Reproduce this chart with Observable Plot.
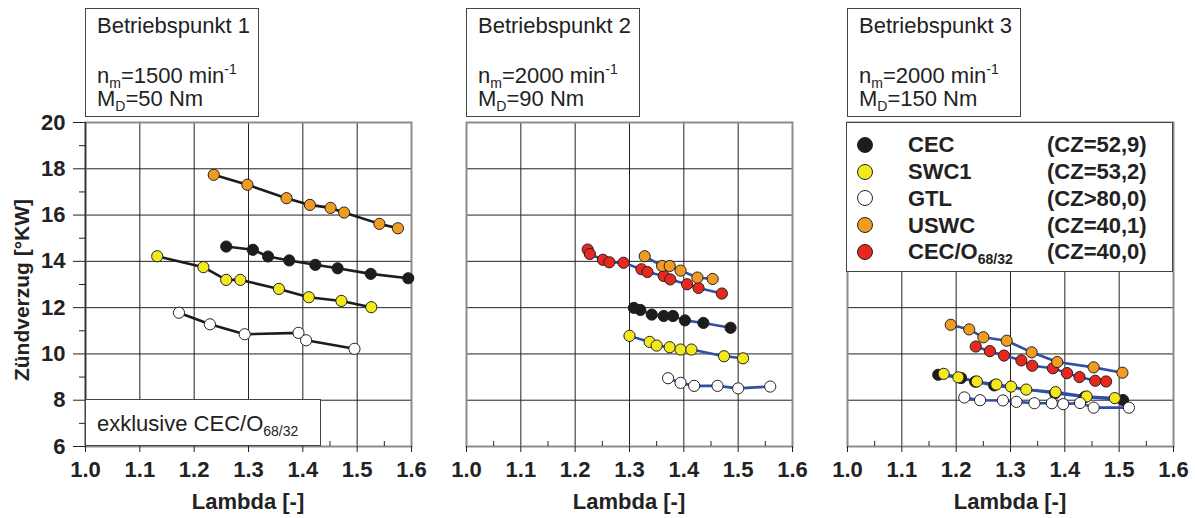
<!DOCTYPE html>
<html>
<head>
<meta charset="utf-8">
<script src="https://cdn.jsdelivr.net/npm/d3@7"></script>
<script src="https://cdn.jsdelivr.net/npm/@observablehq/plot@0.6"></script>
<style>
  html, body { margin: 0; padding: 0; background: #fff; }
  #page { position: relative; width: 1195px; height: 518px; overflow: hidden; font-family: "Liberation Sans", Arial, sans-serif; color: #222; }
  .panel { position: absolute; top: 0; }
  .box { position: absolute; border: 1.5px solid #444; box-sizing: border-box; background: #fff; }
  .t { position: absolute; font-size: 22px; line-height: 22px; white-space: nowrap; }
  .b { font-weight: bold; }
  .sub { font-size: 14px; position: relative; top: 5px; line-height: 0; }
  .sup { font-size: 14px; position: relative; top: -9px; line-height: 0; }
  .ldot { position: absolute; width: 16px; height: 16px; border-radius: 50%; border: 1px solid #222; box-sizing: border-box; }
</style>
</head>
<body>
<div id="page"></div>
<script>
// ---- axes ----
const lambdaTicks = [1.0, 1.1, 1.2, 1.3, 1.4, 1.5, 1.6];
const lambdaMinor = [1.05, 1.15, 1.25, 1.35, 1.45, 1.55];
const zvTicks = [6, 8, 10, 12, 14, 16, 18, 20];
const zvMinor = [7, 9, 11, 13, 15, 17, 19];

// ---- series ----
const seriesNames = ["CEC", "SWC1", "GTL", "USWC", "CEC/O68/32"];
const seriesFill = ["#1c1c1c", "#f2e81c", "#ffffff", "#f29b22", "#e8281e"];
const seriesCZ = ["(CZ=52,9)", "(CZ=53,2)", "(CZ>80,0)", "(CZ=40,1)", "(CZ=40,0)"];

// Betriebspunkt 1: [Lambda, Zündverzug]
const p1CEC  = [[1.259,14.64],[1.308,14.50],[1.336,14.21],[1.375,14.04],[1.423,13.85],[1.464,13.70],[1.525,13.46],[1.594,13.27]];
const p1SWC1 = [[1.132,14.22],[1.217,13.75],[1.259,13.20],[1.285,13.20],[1.356,12.81],[1.411,12.45],[1.471,12.29],[1.526,12.02]];
const p1GTL  = [[1.172,11.78],[1.229,11.28],[1.293,10.85],[1.392,10.91],[1.406,10.59],[1.495,10.22]];
const p1USWC = [[1.236,17.74],[1.298,17.31],[1.370,16.73],[1.413,16.44],[1.451,16.31],[1.476,16.11],[1.541,15.62],[1.575,15.43]];
const p1CECO = [];

// Betriebspunkt 2
const p2CEC  = [[1.308,11.99],[1.320,11.90],[1.341,11.70],[1.363,11.64],[1.380,11.64],[1.402,11.45],[1.436,11.34],[1.486,11.13]];
const p2SWC1 = [[1.300,10.78],[1.337,10.52],[1.350,10.36],[1.374,10.29],[1.394,10.19],[1.414,10.19],[1.474,9.90],[1.509,9.81]];
const p2GTL  = [[1.371,8.95],[1.394,8.75],[1.419,8.62],[1.462,8.62],[1.500,8.51],[1.559,8.59]];
const p2USWC = [[1.328,14.22],[1.360,13.80],[1.374,13.80],[1.394,13.60],[1.425,13.30],[1.453,13.24]];
const p2CECO = [[1.223,14.51],[1.227,14.32],[1.251,14.07],[1.263,13.96],[1.289,13.94],[1.322,13.66],[1.333,13.54],[1.363,13.37],[1.375,13.22],[1.406,13.01],[1.427,12.85],[1.470,12.61]];

// Betriebspunkt 3
const p3CEC  = [[1.167,9.10],[1.209,8.96],[1.235,8.80],[1.270,8.64],[1.382,8.30],[1.437,8.14],[1.507,8.01]];
const p3SWC1 = [[1.177,9.14],[1.204,8.99],[1.238,8.81],[1.274,8.68],[1.301,8.59],[1.329,8.46],[1.383,8.35],[1.440,8.16],[1.492,8.09]];
const p3GTL  = [[1.215,8.12],[1.244,8.00],[1.286,7.99],[1.311,7.93],[1.344,7.87],[1.376,7.87],[1.397,7.83],[1.428,7.88],[1.453,7.68],[1.518,7.68]];
const p3USWC = [[1.190,11.26],[1.224,11.06],[1.250,10.72],[1.293,10.57],[1.339,10.07],[1.386,9.65],[1.453,9.42],[1.506,9.19]];
const p3CECO = [[1.236,10.32],[1.262,10.12],[1.288,9.93],[1.320,9.72],[1.340,9.49],[1.378,9.38],[1.404,9.17],[1.427,9.00],[1.456,8.84],[1.476,8.81]];

const panels = [
  { series: [p1CEC, p1SWC1, p1GTL, p1CECO, p1USWC], idx: [0,1,2,4,3], lineColor: "#1c1c1c", left: 0, ml: 85, yAxis: true },
  { series: [p2CEC, p2SWC1, p2GTL, p2CECO, p2USWC], idx: [0,1,2,4,3], lineColor: "#3050a8", left: 456, ml: 10, yAxis: false },
  { series: [p3CEC, p3SWC1, p3GTL, p3CECO, p3USWC], idx: [0,1,2,4,3], lineColor: "#3050a8", left: 837, ml: 10, yAxis: false }
];

const page = document.getElementById("page");
const plotW = 326;

panels.forEach(p => {
  const marks = [
    Plot.gridX(lambdaTicks.slice(1, -1), {stroke: "#222", strokeOpacity: 1, strokeWidth: 1}),
    Plot.gridY(zvTicks.slice(1, -1), {stroke: "#222", strokeOpacity: 1, strokeWidth: 1}),
    Plot.frame({stroke: "#8c8c8c", strokeWidth: 2}),
    Plot.axisX(lambdaTicks, {tickSize: 6, tickPadding: 9, tickFormat: d => d.toFixed(1), fontWeight: "bold", fontSize: 22, label: null}),
    Plot.axisX(lambdaMinor, {tickSize: -5, tickFormat: () => "", label: null})
  ];
  if (p.yAxis) {
    marks.push(
      Plot.axisY(zvTicks, {tickSize: 12, tickPadding: 8, tickFormat: d => String(d), fontWeight: "bold", fontSize: 22, label: null}),
      Plot.axisY(zvMinor, {tickSize: 6, tickFormat: () => "", label: null}),
      Plot.ruleX([1.0], {stroke: "#333", strokeWidth: 1.5})
    );
  }
  p.series.forEach(s => {
    if (s.length) marks.push(Plot.line(s, {x: d => d[0], y: d => d[1], stroke: p.lineColor, strokeWidth: 2.6}));
  });
  p.series.forEach((s, i) => {
    if (s.length) marks.push(Plot.dot(s, {x: d => d[0], y: d => d[1], r: 5.6, fill: seriesFill[p.idx[i]], stroke: "#222", strokeWidth: 1}));
  });
  const chart = Plot.plot({
    width: p.ml + plotW + 10,
    height: 518,
    marginLeft: p.ml,
    marginRight: 10,
    marginTop: 122,
    marginBottom: 72,
    x: {domain: [1.0, 1.6], axis: null},
    y: {domain: [6, 20], axis: null},
    style: {fontFamily: '"Liberation Sans", Arial, sans-serif', color: "#222", background: "transparent", overflow: "visible"},
    marks
  });
  chart.classList.add("panel");
  chart.style.left = p.left + "px";
  page.appendChild(chart);
});

// ---- annotation boxes (HTML) ----
function el(cls, css, html) {
  const d = document.createElement("div");
  d.className = cls;
  Object.assign(d.style, css);
  if (html != null) d.innerHTML = html;
  page.appendChild(d);
  return d;
}
const headers = [
  {x: 85, title: "Betriebspunkt 1", n: "1500", m: "50"},
  {x: 466, title: "Betriebspunkt 2", n: "2000", m: "90"},
  {x: 847, title: "Betriebspunkt 3", n: "2000", m: "150"}
];
headers.forEach(h => {
  el("box", {left: h.x + "px", top: "8px", width: "174px", height: "109px"});
  el("t", {left: (h.x + 12) + "px", top: "15px"}, h.title);
  el("t", {left: (h.x + 12) + "px", top: "65px"}, `n<span class="sub">m</span>=${h.n} min<span class="sup">-1</span>`);
  el("t", {left: (h.x + 12) + "px", top: "88px"}, `M<span class="sub">D</span>=${h.m} Nm`);
});

// exklusive box
el("box", {left: "85px", top: "399px", width: "236px", height: "47px"});
el("t", {left: "97px", top: "413px"}, `exklusive CEC/O<span class="sub">68/32</span>`);

// legend
el("box", {left: "846px", top: "122px", width: "327px", height: "150px"});
seriesNames.forEach((name, i) => {
  const cy = 145 + 26.7 * i;
  el("ldot", {left: (865 - 8) + "px", top: (cy - 8) + "px", background: seriesFill[i]});
  const label = name === "CEC/O68/32" ? `CEC/O<span class="sub">68/32</span>` : name;
  el("t b", {left: "908px", top: (cy + 8 - 18.6) + "px"}, label);
  el("t b", {left: "1047px", top: (cy + 8 - 18.6) + "px"}, seriesCZ[i]);
});

// axis titles
[248, 629, 1010].forEach(cx => {
  el("t b", {left: cx + "px", top: (510 - 18.6) + "px", transform: "translateX(-50%)"}, "Lambda [-]");
});
el("t b", {left: "22px", top: "290px", fontSize: "21px", transform: "translate(-50%,-50%) rotate(-90deg)"}, "Zündverzug [°KW]");
</script>
</body>
</html>
